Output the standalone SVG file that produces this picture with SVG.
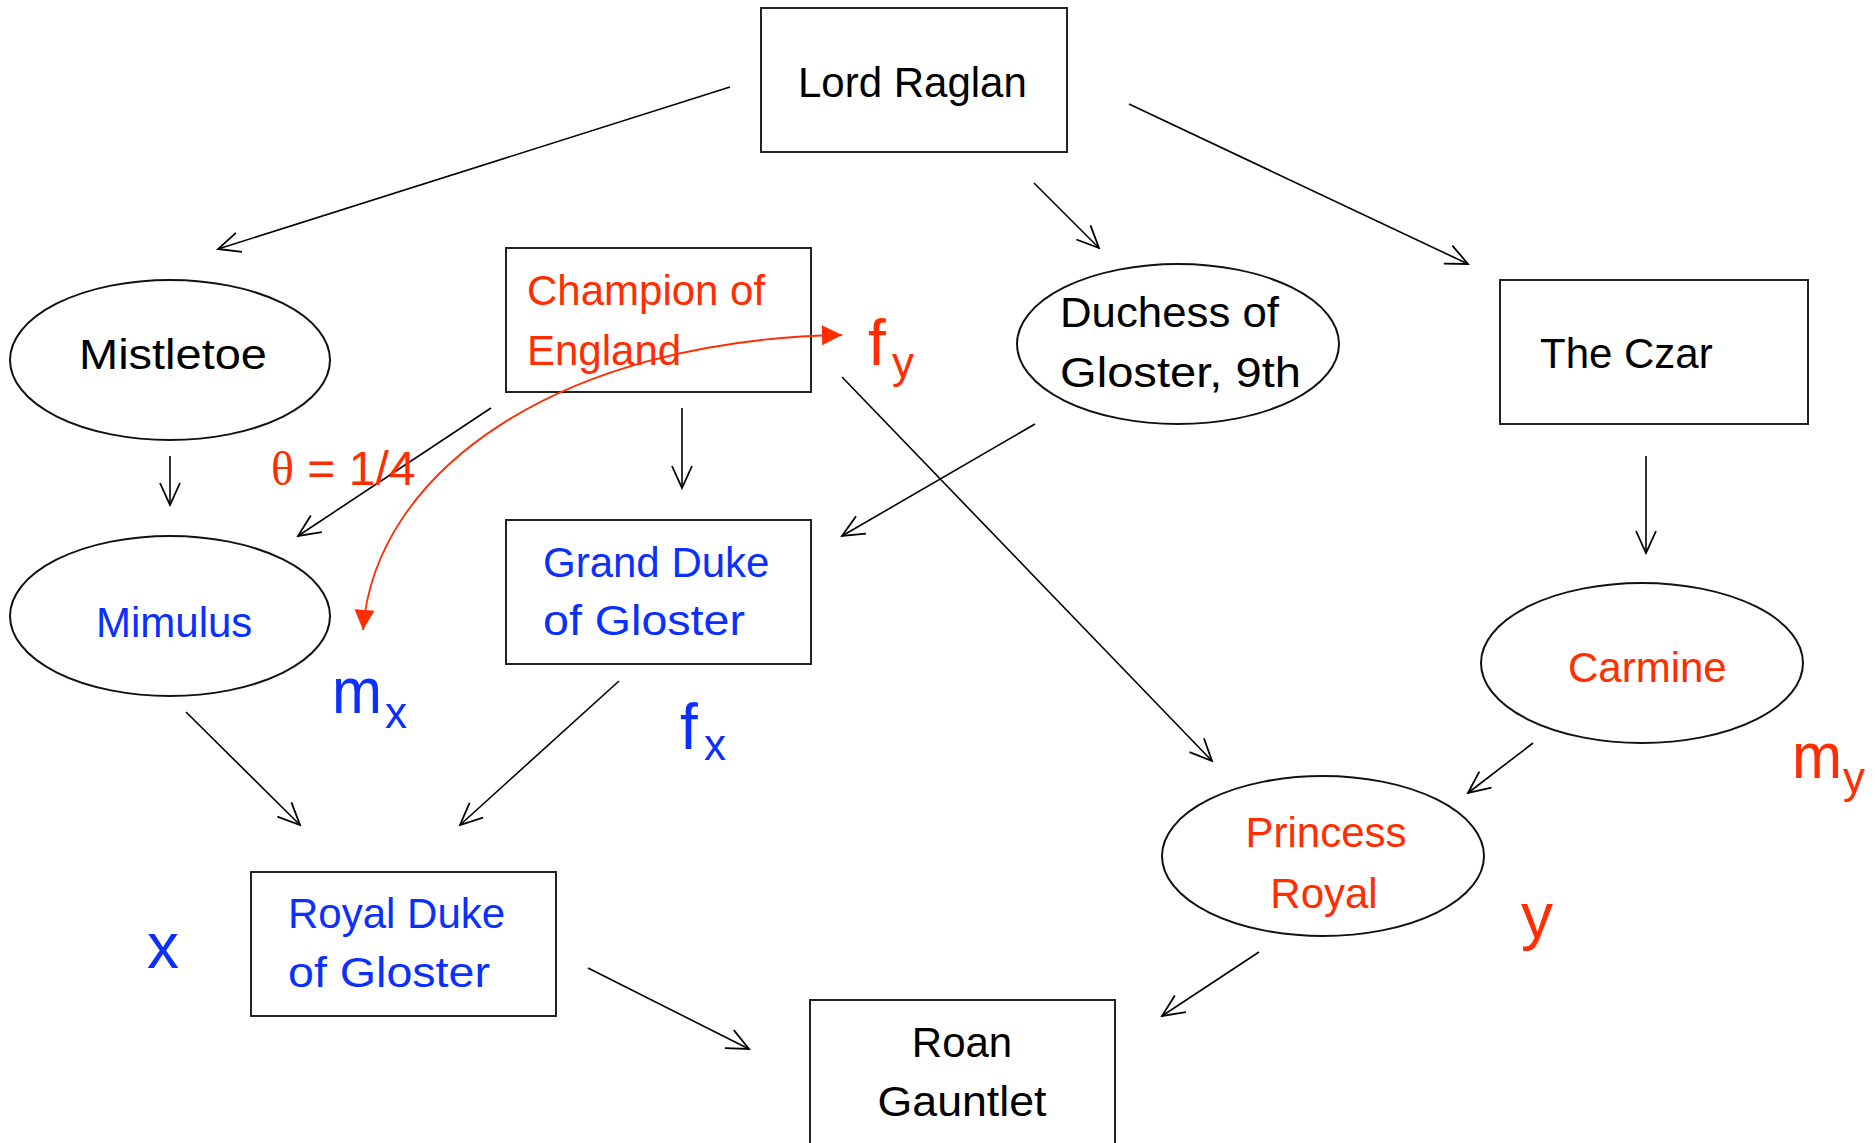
<svg xmlns="http://www.w3.org/2000/svg" width="1876" height="1143" viewBox="0 0 1876 1143">
<style>
.box{fill:#fff;stroke:#222;stroke-width:2}
.ell{fill:#fff;stroke:#111;stroke-width:2}
.t{font-family:"Liberation Sans",Arial,sans-serif;font-size:42px}
.k{fill:#000}
.r{fill:#ff2d00}
.b{fill:#0a30ff}
.lab{font-family:"Liberation Sans",Arial,sans-serif;font-size:64px}
.sub{font-family:"Liberation Sans",Arial,sans-serif;font-size:44px}
.c{fill:none;stroke:#000;stroke-width:1.6;marker-end:url(#arr)}
</style>
<defs>
<marker id="arr" markerUnits="userSpaceOnUse" viewBox="-26 -13 28 26" markerWidth="28" markerHeight="26" refX="0" refY="0" orient="auto">
<path d="M-22,-10 L0,0 L-22,10" fill="none" stroke="#000" stroke-width="1.8"/>
</marker>
<marker id="rarr" markerUnits="userSpaceOnUse" viewBox="-22 -11 24 22" markerWidth="24" markerHeight="22" refX="0" refY="0" orient="auto-start-reverse">
<path d="M0,0 L-20,-10 L-20,10 z" fill="#ff2d00"/>
</marker>
</defs>

<g id="connectors">
<line class="c" x1="730" y1="87" x2="218" y2="249"/>
<line class="c" x1="1034" y1="183" x2="1099" y2="248"/>
<line class="c" x1="1129" y1="104" x2="1468" y2="264"/>
<line class="c" x1="170" y1="456" x2="170" y2="505"/>
<line class="c" x1="491" y1="408" x2="298" y2="536"/>
<line class="c" x1="682" y1="408" x2="682" y2="488"/>
<line class="c" x1="1035" y1="424" x2="842" y2="536"/>
<line class="c" x1="842" y1="377" x2="1212" y2="761"/>
<line class="c" x1="1646" y1="456" x2="1646" y2="553"/>
<line class="c" x1="1533" y1="743" x2="1468" y2="793"/>
<line class="c" x1="186" y1="712" x2="300" y2="825"/>
<line class="c" x1="619" y1="681" x2="460" y2="825"/>
<line class="c" x1="1259" y1="952" x2="1162" y2="1016"/>
<line class="c" x1="588" y1="968" x2="749" y2="1049"/>
</g>

<g id="lord-raglan">
<rect class="box" x="761" y="8" width="306" height="144"/>
<text class="t k" x="798" y="97">Lord Raglan</text>
</g>
<g id="mistletoe">
<ellipse class="ell" cx="170" cy="360" rx="160" ry="80"/>
<text class="t k" x="79" y="369" textLength="188" lengthAdjust="spacingAndGlyphs">Mistletoe</text>
</g>
<g id="champion-of-england">
<rect class="box" x="506" y="248" width="305" height="144"/>
<text class="t r" x="527" y="305">Champion of</text>
<text class="t r" x="527" y="365">England</text>
</g>
<g id="duchess-of-gloster">
<ellipse class="ell" cx="1178" cy="344" rx="161" ry="80"/>
<text class="t k" x="1060" y="327" textLength="219" lengthAdjust="spacingAndGlyphs">Duchess of</text>
<text class="t k" x="1060" y="387" textLength="241" lengthAdjust="spacingAndGlyphs">Gloster, 9th</text>
</g>
<g id="the-czar">
<rect class="box" x="1500" y="280" width="308" height="144"/>
<text class="t k" x="1540" y="368">The Czar</text>
</g>
<g id="mimulus">
<ellipse class="ell" cx="170" cy="616" rx="160" ry="80"/>
<text class="t b" x="96" y="637">Mimulus</text>
</g>
<g id="grand-duke-of-gloster">
<rect class="box" x="506" y="520" width="305" height="144"/>
<text class="t b" x="543" y="577">Grand Duke</text>
<text class="t b" x="543" y="635" textLength="202" lengthAdjust="spacingAndGlyphs">of Gloster</text>
</g>
<g id="carmine">
<ellipse class="ell" cx="1642" cy="663" rx="161" ry="80"/>
<text class="t r" x="1568" y="682">Carmine</text>
</g>
<g id="princess-royal">
<ellipse class="ell" cx="1323" cy="856" rx="161" ry="80"/>
<text class="t r" x="1326" y="847" text-anchor="middle">Princess</text>
<text class="t r" x="1324" y="908" text-anchor="middle">Royal</text>
</g>
<g id="royal-duke-of-gloster">
<rect class="box" x="251" y="872" width="305" height="144"/>
<text class="t b" x="288" y="928">Royal Duke</text>
<text class="t b" x="288" y="987" textLength="202" lengthAdjust="spacingAndGlyphs">of Gloster</text>
</g>
<g id="roan-gauntlet">
<rect class="box" x="810" y="1000" width="305" height="150"/>
<text class="t k" x="962" y="1057" text-anchor="middle">Roan</text>
<text class="t k" x="962" y="1116" text-anchor="middle" textLength="169" lengthAdjust="spacingAndGlyphs">Gauntlet</text>
</g>

<g id="annotations">
<path d="M363,630 C375,470 560,340 842,335" fill="none" stroke="#ff2d00" stroke-width="1.8" marker-start="url(#rarr)" marker-end="url(#rarr)"/>
<text class="r" x="271" y="485" font-family="Liberation Sans,Arial,sans-serif" font-size="48"><tspan font-family="Liberation Serif,serif">θ</tspan> = 1/4</text>
<text class="lab r" x="868" y="365">f</text><text class="sub r" x="892" y="378">y</text>
<text class="lab b" x="332" y="713" textLength="50" lengthAdjust="spacingAndGlyphs">m</text><text class="sub b" x="385" y="728">x</text>
<text class="lab b" x="680" y="749">f</text><text class="sub b" x="704" y="760">x</text>
<text class="lab b" x="147" y="968">x</text>
<text class="lab r" x="1792" y="778" textLength="50" lengthAdjust="spacingAndGlyphs">m</text><text class="sub r" x="1843" y="793">y</text>
<text class="lab r" x="1521" y="938">y</text>
</g>
</svg>
